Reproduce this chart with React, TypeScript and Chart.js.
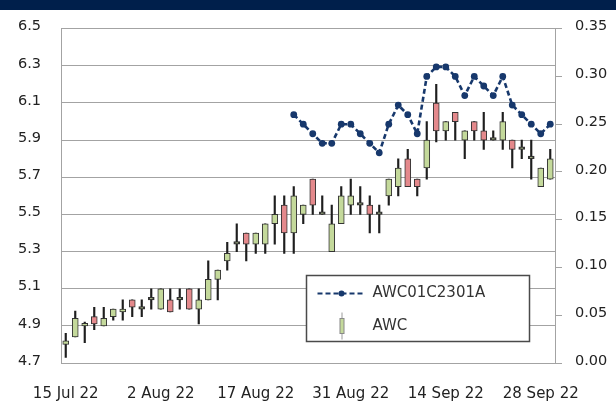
import React, { useEffect, useRef } from 'react';
import { Chart, registerables } from 'chart.js';

Chart.register(...registerables);

const categories = [
  '15 Jul 22', '18 Jul 22', '19 Jul 22', '20 Jul 22', '21 Jul 22', '22 Jul 22', '25 Jul 22', '26 Jul 22', '28 Jul 22', '29 Jul 22',
  '2 Aug 22', '3 Aug 22', '4 Aug 22', '5 Aug 22', '8 Aug 22', '9 Aug 22', '10 Aug 22', '11 Aug 22', '12 Aug 22', '16 Aug 22',
  '17 Aug 22', '18 Aug 22', '19 Aug 22', '22 Aug 22', '23 Aug 22', '24 Aug 22', '25 Aug 22', '26 Aug 22', '29 Aug 22', '30 Aug 22',
  '31 Aug 22', '1 Sep 22', '2 Sep 22', '5 Sep 22', '6 Sep 22', '7 Sep 22', '8 Sep 22', '9 Sep 22', '12 Sep 22', '13 Sep 22',
  '14 Sep 22', '15 Sep 22', '16 Sep 22', '19 Sep 22', '20 Sep 22', '21 Sep 22', '22 Sep 22', '23 Sep 22', '26 Sep 22', '27 Sep 22',
  '28 Sep 22', '29 Sep 22',
];

const opens = [
  4.80, 4.84, 4.90, 4.95, 4.90, 4.95, 4.975, 5.04, 4.99, 5.04,
  4.99, 5.04, 5.04, 5.10, 4.99, 5.04, 5.15, 5.25, 5.34, 5.40,
  5.34, 5.34, 5.45, 5.55, 5.40, 5.50, 5.69, 5.50, 5.30, 5.45,
  5.55, 5.55, 5.55, 5.50, 5.60, 5.65, 5.80, 5.69, 5.75, 6.10,
  5.95, 6.05, 5.90, 6.00, 5.95, 5.90, 5.90, 5.90, 5.85, 5.80,
  5.65, 5.69,
];
const highs = [
  4.86, 4.98, 4.92, 5.00, 5.00, 4.99, 5.04, 5.04, 5.04, 5.10,
  5.10, 5.10, 5.10, 5.10, 5.10, 5.25, 5.20, 5.35, 5.45, 5.40,
  5.40, 5.45, 5.60, 5.60, 5.65, 5.55, 5.69, 5.60, 5.55, 5.65,
  5.69, 5.65, 5.60, 5.55, 5.69, 5.80, 5.85, 5.69, 6.00, 6.20,
  6.00, 6.05, 5.95, 6.00, 6.05, 5.95, 6.05, 5.90, 5.90, 5.90,
  5.75, 5.85,
];
const lows = [
  4.73, 4.84, 4.81, 4.88, 4.90, 4.93, 4.93, 4.95, 4.95, 4.99,
  4.99, 4.975, 4.99, 4.99, 4.91, 5.04, 5.04, 5.20, 5.30, 5.25,
  5.29, 5.29, 5.34, 5.29, 5.29, 5.45, 5.50, 5.50, 5.30, 5.45,
  5.50, 5.50, 5.40, 5.40, 5.55, 5.60, 5.65, 5.60, 5.69, 5.89,
  5.90, 5.90, 5.80, 5.90, 5.85, 5.90, 5.85, 5.75, 5.80, 5.69,
  5.65, 5.69,
];
const closes = [
  4.82, 4.94, 4.91, 4.91, 4.94, 4.99, 4.99, 5.00, 4.99, 5.04,
  5.10, 4.975, 5.04, 4.99, 5.04, 5.15, 5.20, 5.29, 5.34, 5.34,
  5.40, 5.45, 5.50, 5.40, 5.60, 5.55, 5.55, 5.50, 5.45, 5.60,
  5.60, 5.55, 5.50, 5.50, 5.69, 5.75, 5.65, 5.65, 5.90, 5.95,
  6.00, 6.00, 5.95, 5.95, 5.90, 5.90, 6.00, 5.85, 5.85, 5.80,
  5.75, 5.80,
];

const stockLabel = 'AWC';
const optionLabel = 'AWC01C2301A';
const optionStartDate = '23 Aug 22';
const optionValues = [
  0.26, 0.25, 0.24, 0.23, 0.23, 0.25, 0.25, 0.24, 0.23, 0.22,
  0.25, 0.27, 0.26, 0.24, 0.30, 0.31, 0.31, 0.30, 0.28, 0.30,
  0.29, 0.28, 0.30, 0.27, 0.26, 0.25, 0.24, 0.25,
];

const priceMin = 4.7;
const priceMax = 6.5;
const priceStep = 0.2;
const optionMin = 0;
const optionMax = 0.35;
const optionStep = 0.05;
const labelEvery = 10;

const UP_COLOR = '#c4d99b';
const DOWN_COLOR = '#e4898c';
const CANDLE_EDGE = '#333333';
const LINE_COLOR = '#17386c';
const GRID_COLOR = '#a3a3a3';
const TEXT_COLOR = '#222222';
const FONT = "'DejaVu Sans', 'Verdana', sans-serif";

const boxLegend = {
  id: 'boxLegend',
  afterDraw(chart: any) {
    const ctx = chart.ctx as CanvasRenderingContext2D;
    const ds = chart.data.datasets;
    const x = 306.5;
    const y = 275.5;
    const w = 223;
    const h = 66;
    ctx.save();
    ctx.fillStyle = '#ffffff';
    ctx.fillRect(x, y, w, h);
    ctx.strokeStyle = '#4a4a4a';
    ctx.lineWidth = 1.5;
    ctx.strokeRect(x, y, w, h);

    // line entry
    const r1 = y + 18;
    ctx.strokeStyle = LINE_COLOR;
    ctx.lineWidth = 2;
    ctx.setLineDash([5, 3]);
    ctx.beginPath();
    ctx.moveTo(x + 11, r1);
    ctx.lineTo(x + 56, r1);
    ctx.stroke();
    ctx.setLineDash([]);
    ctx.fillStyle = LINE_COLOR;
    ctx.beginPath();
    ctx.arc(x + 35, r1, 3, 0, Math.PI * 2);
    ctx.fill();

    // candle entry
    const r2 = y + 51;
    ctx.strokeStyle = '#9a9a9a';
    ctx.lineWidth = 1;
    ctx.beginPath();
    ctx.moveTo(x + 35.5, r2 - 14);
    ctx.lineTo(x + 35.5, r2 + 13);
    ctx.stroke();
    ctx.fillStyle = UP_COLOR;
    ctx.fillRect(x + 33.5, r2 - 8, 4, 15);
    ctx.strokeStyle = '#888888';
    ctx.strokeRect(x + 33.5, r2 - 8, 4, 15);

    ctx.fillStyle = '#333333';
    ctx.font = `15px ${FONT}`;
    ctx.textBaseline = 'middle';
    ctx.textAlign = 'left';
    ctx.fillText(ds[0].label, x + 66, r1);
    ctx.fillText(ds[1].label, x + 66, r2);
    ctx.restore();
  },
};

export default function App() {
  const ref = useRef<HTMLCanvasElement | null>(null);

  useEffect(() => {
    if (!ref.current) return;
    const start = categories.indexOf(optionStartDate);
    const optionSeries = categories.map((_, i) =>
      i >= start && i - start < optionValues.length ? optionValues[i - start] : null
    );
    const bodies = categories.map((_, i) => [opens[i], closes[i]]);
    const wicks = categories.map((_, i) => [lows[i], highs[i]]);
    const bodyColors = categories.map((_, i) => (closes[i] >= opens[i] ? UP_COLOR : DOWN_COLOR));
    const bodyBorders = categories.map((_, i) => (closes[i] === opens[i] ? 2 : 1));

    const chart = new Chart(ref.current, {
      type: 'bar',
      data: {
        labels: categories,
        datasets: [
          {
            type: 'line',
            label: optionLabel,
            data: optionSeries as any,
            yAxisID: 'y1',
            borderColor: LINE_COLOR,
            backgroundColor: LINE_COLOR,
            borderWidth: 2.6,
            borderDash: [5, 3],
            pointRadius: 3.4,
            pointBackgroundColor: LINE_COLOR,
            pointBorderWidth: 0,
            tension: 0,
            order: 0,
          } as any,
          {
            type: 'bar',
            label: stockLabel,
            data: bodies as any,
            yAxisID: 'y',
            backgroundColor: bodyColors,
            borderColor: CANDLE_EDGE,
            borderWidth: bodyBorders,
            borderSkipped: false,
            barThickness: 6,
            minBarLength: 2.6,
            grouped: false,
            order: 1,
          } as any,
          {
            type: 'bar',
            label: 'range',
            data: wicks as any,
            yAxisID: 'y',
            backgroundColor: '#1e1e1e',
            borderWidth: 0,
            barThickness: 1.5,
            grouped: false,
            order: 2,
          } as any,
        ],
      },
      options: {
        responsive: false,
        animation: false,
        devicePixelRatio: 1,
        layout: { padding: { top: 25, left: 0, right: 0, bottom: 0 } },
        plugins: {
          legend: { display: false },
          tooltip: { enabled: false },
        },
        scales: {
          x: {
            type: 'category',
            offset: true,
            grid: { display: false },
            border: { display: true, color: GRID_COLOR, width: 1 },
            ticks: {
              autoSkip: false,
              minRotation: 0,
              maxRotation: 0,
              padding: 14,
              color: TEXT_COLOR,
              font: { family: FONT, size: 15 },
              callback: (_v: any, index: number) => (index % labelEvery === 0 ? categories[index] : ''),
            },
            afterFit: (scale: any) => {
              scale.height = 39;
            },
          },
          y: {
            type: 'linear',
            position: 'left',
            min: priceMin,
            max: priceMax,
            grid: { color: GRID_COLOR, lineWidth: 1, drawTicks: false },
            border: { display: true, color: GRID_COLOR, width: 1 },
            ticks: {
              stepSize: priceStep,
              padding: 20,
              labelOffset: -2,
              color: TEXT_COLOR,
              font: { family: FONT, size: 14.5 },
              callback: (v: any) => Number(v).toFixed(1),
            },
            afterFit: (scale: any) => {
              scale.width = 61;
            },
          },
          y1: {
            type: 'linear',
            position: 'right',
            min: optionMin,
            max: optionMax,
            grid: { drawOnChartArea: false, drawTicks: true, tickLength: 7, color: GRID_COLOR },
            border: { display: true, color: GRID_COLOR, width: 1 },
            ticks: {
              stepSize: optionStep,
              padding: 13,
              labelOffset: -2,
              color: TEXT_COLOR,
              font: { family: FONT, size: 14.5 },
              callback: (v: any) => Number(v).toFixed(2),
            },
            afterFit: (scale: any) => {
              scale.width = 61;
            },
          },
        },
      } as any,
      plugins: [boxLegend],
    });
    return () => chart.destroy();
  }, []);

  return (
    <div style={{ position: 'absolute', left: 0, top: 0, width: 616, height: 402, background: '#ffffff' }}>
      <canvas ref={ref} width={616} height={402} style={{ display: 'block' }} />
      <div style={{ position: 'absolute', left: 0, top: 0, width: 616, height: 10, background: '#001f4b' }} />
    </div>
  );
}
